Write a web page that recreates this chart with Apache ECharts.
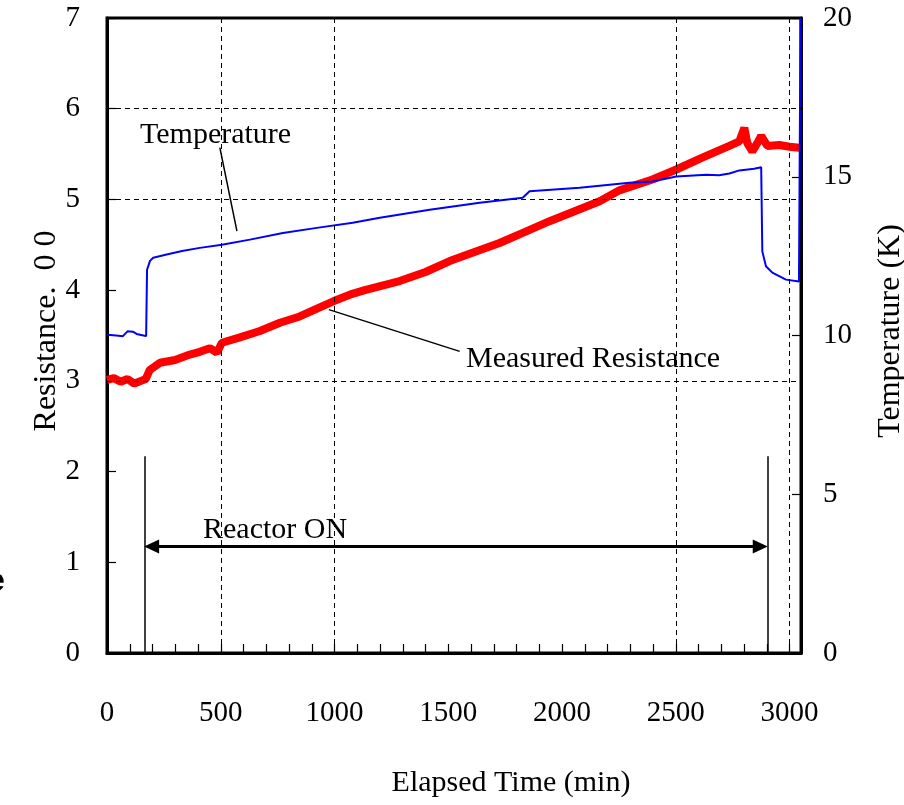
<!DOCTYPE html>
<html>
<head>
<meta charset="utf-8">
<title>Resistance and Temperature vs Elapsed Time</title>
<script src="https://cdn.jsdelivr.net/npm/echarts@6/dist/echarts.min.js"></script>
<style>
  html, body { margin: 0; padding: 0; background: #fff; }
  #main { width: 904px; height: 805px; }
</style>
</head>
<body>
<div id="main"></div>
<script>
  // measured resistance (left axis)
  var resTime = [0, 30, 60, 90, 120, 150, 170, 188, 233, 299, 364, 408, 452, 483, 505, 584, 672, 760, 847, 935, 997, 1067, 1133, 1286, 1400, 1506, 1615, 1725, 1835, 1945, 2055, 2165, 2252, 2397, 2502, 2616, 2735, 2779, 2801, 2814, 2836, 2858, 2875, 2902, 2954, 3000, 3042]
  var resValue = [3.01, 3.03, 2.99, 3.02, 2.97, 3.0, 3.02, 3.12, 3.2, 3.23, 3.29, 3.32, 3.36, 3.31, 3.42, 3.48, 3.55, 3.64, 3.71, 3.81, 3.88, 3.95, 4.0, 4.1, 4.2, 4.32, 4.42, 4.52, 4.64, 4.76, 4.87, 4.98, 5.1, 5.22, 5.33, 5.46, 5.59, 5.64, 5.79, 5.62, 5.53, 5.62, 5.7, 5.59, 5.6, 5.58, 5.57]

  // temperature (right axis, K)
  var tempTime = [0, 40, 70, 90, 114, 130, 160, 172, 176, 189, 203, 262, 330, 408, 505, 628, 773, 922, 1080, 1199, 1418, 1638, 1827, 1857, 2077, 2296, 2397, 2502, 2634, 2690, 2735, 2779, 2844, 2875, 2880, 2896, 2924, 2984, 3041, 3048]
  var tempValue = [10.02, 10.0, 9.98, 10.13, 10.12, 10.05, 10.0, 9.98, 12.07, 12.35, 12.45, 12.55, 12.66, 12.76, 12.86, 13.02, 13.23, 13.39, 13.55, 13.71, 13.96, 14.18, 14.34, 14.54, 14.65, 14.81, 14.85, 15.01, 15.06, 15.05, 15.1, 15.2, 15.25, 15.3, 12.65, 12.18, 11.98, 11.76, 11.7, 20]

  // dashed reference lines
  var gridX = [500, 1000, 2500, 3000]
  var gridY = [3, 5, 6]

  // reactor on / off times (min) and marker heights
  var reactorOn = 164
  var reactorOff = 2903
  var reactorLineTop = 2.17
  var reactorArrowY = 1.175
  var arrowInset = 32 // half an arrow head, so the tips touch the lines

  // leader lines of the text labels [time, resistance]
  var tempLeader = [[496, 5.57], [571, 4.65]]
  var resLeader = [[975, 3.785], [1550, 3.325]]

  function zip (a, b) {
    return a.map(function (v, i) { return [v, b[i]] })
  }

  var serif = "'Liberation Serif', 'Times New Roman', serif"
  var black = '#000'

  var chart = echarts.init(document.getElementById('main'))

  var gridMarks = gridY.map(function (v) { return {yAxis: v} })
    .concat(gridX.map(function (v) { return {xAxis: v} }))

  chart.setOption({
    animation: false,
    grid: {
      left: 107,
      right: 103,
      top: 18,
      bottom: 152,
      show: true,
      borderColor: black,
      borderWidth: 3
    },
    xAxis: {
      type: 'value',
      min: 0,
      max: 3050,
      interval: 100,
      axisLine: { lineStyle: { color: black, width: 3 } },
      axisTick: { inside: true, length: 9, lineStyle: { color: black, width: 1.2 } },
      axisLabel: {
        color: black,
        fontFamily: serif,
        fontSize: 29,
        margin: 46,
        formatter: function (v) { return v % 500 === 0 ? String(v) : '' }
      },
      splitLine: { show: false }
    },
    yAxis: [{
      type: 'value',
      min: 0,
      max: 7,
      interval: 1,
      axisLine: { show: true, lineStyle: { color: black, width: 3 } },
      axisTick: { show: true, inside: true, length: 9, lineStyle: { color: black, width: 1.2 } },
      axisLabel: { color: black, fontFamily: serif, fontSize: 29, margin: 27 },
      splitLine: { show: false }
    }, {
      type: 'value',
      min: 0,
      max: 20,
      interval: 5,
      position: 'right',
      axisLine: { show: true, lineStyle: { color: black, width: 3 } },
      axisTick: { show: true, inside: true, length: 9, lineStyle: { color: black, width: 1.2 } },
      axisLabel: { color: black, fontFamily: serif, fontSize: 29, margin: 22 },
      splitLine: { show: false }
    }],
    series: [{
      name: 'gridlines',
      type: 'line',
      data: [],
      z: 1,
      markLine: {
        silent: true,
        symbol: ['none', 'none'],
        label: { show: false },
        lineStyle: { color: black, width: 1, type: [5, 4] },
        data: gridMarks
      }
    }, {
      name: 'Measured Resistance',
      type: 'line',
      yAxisIndex: 0,
      showSymbol: false,
      z: 3,
      data: zip(resTime, resValue),
      lineStyle: { color: '#ff0000', width: 8 }
    }, {
      name: 'Temperature',
      type: 'line',
      yAxisIndex: 1,
      showSymbol: false,
      z: 4,
      data: zip(tempTime, tempValue),
      lineStyle: { color: '#0000ff', width: 2 }
    }, {
      name: 'annotations',
      type: 'line',
      data: [],
      z: 5,
      markLine: {
        silent: true,
        symbol: ['none', 'none'],
        label: { show: false },
        lineStyle: { color: black, width: 1.5, type: 'solid' },
        data: [
          [{coord: [reactorOn, 0]}, {coord: [reactorOn, reactorLineTop]}],
          [{coord: [reactorOff, 0]}, {coord: [reactorOff, reactorLineTop]}],
          [{coord: tempLeader[0]}, {coord: tempLeader[1]}],
          [{coord: resLeader[0]}, {coord: resLeader[1]}],
          [
            {coord: [reactorOn + arrowInset, reactorArrowY], symbol: 'triangle', symbolSize: [14, 15], lineStyle: { width: 3 }},
            {coord: [reactorOff - arrowInset, reactorArrowY], symbol: 'triangle', symbolSize: [14, 15]}
          ]
        ]
      }
    }],
    graphic: [{
      type: 'text',
      left: 140,
      top: 120,
      style: { text: 'Temperature', font: '30px ' + serif, fill: black }
    }, {
      type: 'text',
      left: 466,
      top: 344,
      style: { text: 'Measured Resistance', font: '30px ' + serif, fill: black }
    }, {
      type: 'text',
      left: 203,
      top: 515,
      style: { text: 'Reactor ON', font: '30px ' + serif, fill: black }
    }, {
      type: 'text',
      x: 511,
      y: 783,
      style: { text: 'Elapsed Time (min)', font: '30px ' + serif, fill: black, align: 'center', verticalAlign: 'middle' }
    }, {
      type: 'text',
      x: 47,
      y: 331,
      rotation: Math.PI / 2,
      style: { text: 'Resistance.  0 0', font: '32px ' + serif, fill: black, align: 'center', verticalAlign: 'middle' }
    }, {
      type: 'text',
      x: 891,
      y: 331,
      rotation: Math.PI / 2,
      style: { text: 'Temperature (K)', font: '32px ' + serif, fill: black, align: 'center', verticalAlign: 'middle' }
    }, {
      type: 'text',
      x: 5,
      y: 582,
      style: { text: 'e', font: 'bold 34px "Liberation Sans", Arial, sans-serif', fill: black, align: 'right', verticalAlign: 'middle' }
    }]
  })
</script>
</body>
</html>
